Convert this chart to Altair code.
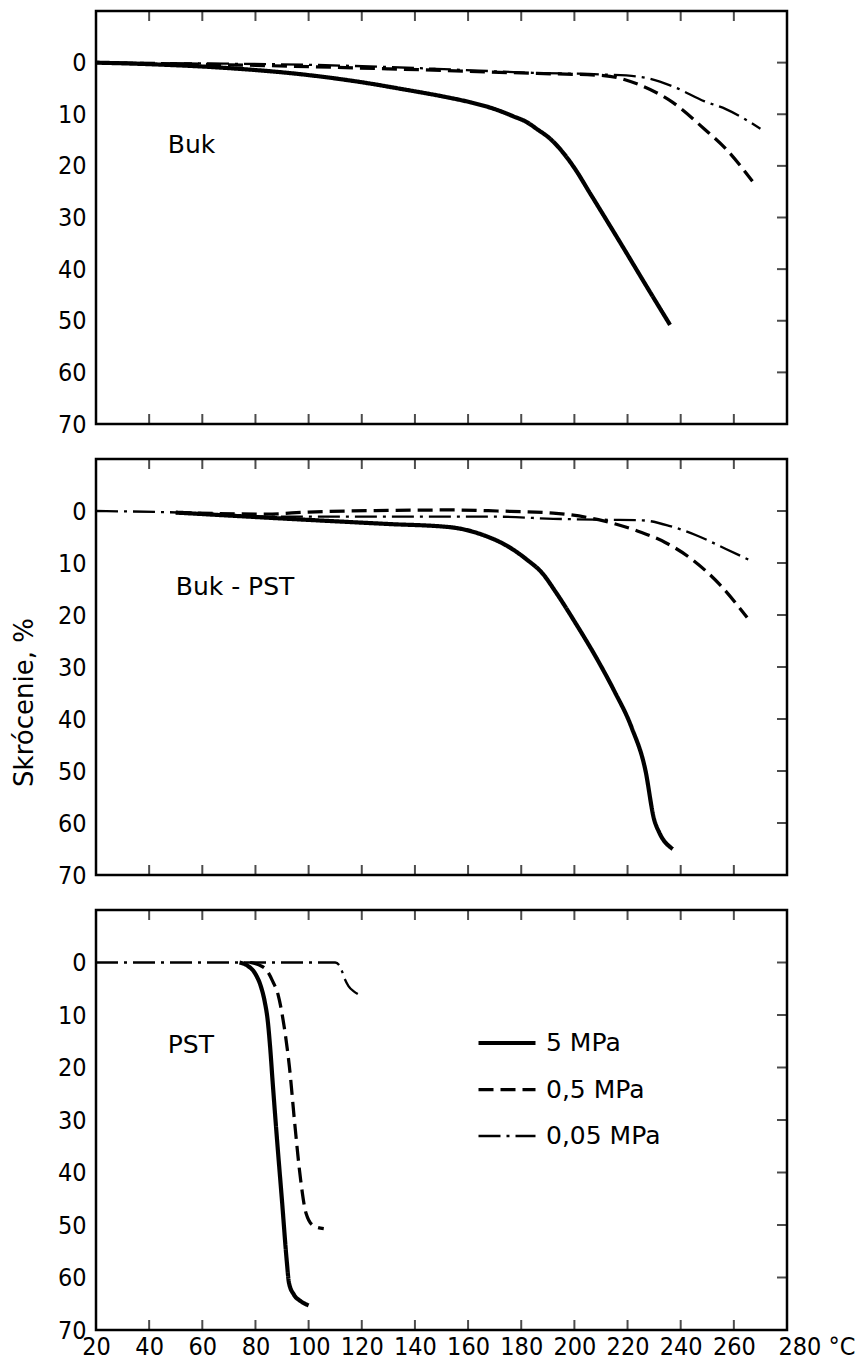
import altair as alt
import pandas as pd

NUM_FONT = "DejaVu Sans Condensed"
TXT_FONT = "DejaVu Sans"

series = ["5 MPa", "0,5 MPa", "0,05 MPa"]

# ---- Buk ----
buk_5_T = [20, 40, 68, 98, 120, 136, 150, 161, 170, 177, 182, 186, 191, 196, 200, 206, 218, 227, 236]
buk_5_v = [0, 0.3, 1.0, 2.3, 3.8, 5.2, 6.5, 7.7, 9.0, 10.4, 11.5, 12.9, 14.8, 17.6, 20.4, 25.4, 35.5, 43.2, 50.8]
buk_05_T = [20, 68, 130, 186, 211, 224, 237, 249, 257, 267]
buk_05_v = [0, 0.4, 1.2, 2.1, 2.5, 4.2, 7.7, 12.9, 16.7, 23.0]
buk_005_T = [20, 68, 98, 148, 186, 211, 224, 237, 249, 257, 270]
buk_005_v = [0, 0.2, 0.4, 1.2, 2.0, 2.3, 2.7, 4.6, 7.5, 9.0, 12.8]

# ---- Buk - PST ----
bp_5_T = [50, 99.5, 130, 153, 166.6, 175, 182, 188, 193, 200, 209, 215, 221.5, 226.7, 230, 232, 237]
bp_5_v = [0.3, 1.7, 2.5, 3.1, 4.8, 6.8, 9.3, 12.0, 15.6, 21.2, 28.9, 34.6, 41.6, 49.8, 59.3, 61.9, 65.0]
bp_05_T = [50, 84, 100, 130, 155, 171, 192, 211, 223.5, 234, 244, 255, 265]
bp_05_v = [0.3, 0.6, 0.2, -0.1, -0.2, 0, 0.4, 1.9, 3.8, 6.0, 9.2, 14.3, 20.5]
bp_005_T = [20, 52, 88, 130, 171, 192, 213, 225.6, 236, 246.5, 257, 267]
bp_005_v = [0, 0.3, 1.1, 1.1, 1.1, 1.5, 1.7, 1.8, 2.9, 4.8, 7.3, 9.7]

# ---- PST ----
p_5_T = [74, 77, 80, 82, 83.5, 84.6, 85.5, 86.5, 88, 90, 91.8, 92.6, 94.5, 97, 100]
p_5_v = [0, 0.6, 2.2, 4.5, 7.5, 11.0, 16.0, 23.0, 33.0, 45.5, 57.0, 61.0, 63.3, 64.5, 65.3]
p_05_T = [78, 81, 84.4, 86.5, 88.6, 90.7, 92.8, 94.8, 97, 99, 102, 105.7]
p_05_v = [0, 0.4, 1.6, 3.6, 6.3, 11.9, 20.0, 30.8, 41.4, 47.7, 50.2, 50.7]
p_005_T = [20, 110, 111.5, 112.5, 113.5, 115, 117, 118.5]
p_005_v = [0, 0, 0.5, 1.6, 3.0, 4.5, 5.5, 6.0]

panel_names = ["Buk", "Buk - PST", "PST"]
panel_label_T = [47, 50, 47]
panel_label_v = [16, 14.7, 15.7]

x_tick_values = [40, 60, 80, 100, 120, 140, 160, 180, 200, 220, 240, 260]
x_label_values = [20, 40, 60, 80, 100, 120, 140, 160, 180, 200, 220, 240, 260, 280]
y_values = [0, 10, 20, 30, 40, 50, 60, 70]
y_tick_values = [0, 10, 20, 30, 40, 50, 60]

X_MIN, X_MAX = 20, 280
Y_MIN, Y_MAX = -10, 70

dash_range = [[1, 0], [15, 7], [22, 6, 3, 6]]
width_range = [4.2, 2.3, 2.3]


def make_df(groups):
    rows = []
    for name, Ts, vs in groups:
        for t, v in zip(Ts, vs):
            rows.append({"T": t, "v": v, "series": name})
    return pd.DataFrame(rows)


def panel(df, idx, height, show_x, show_title, show_legend):
    xscale = alt.Scale(domain=[X_MIN, X_MAX], nice=False, zero=False)
    yscale = alt.Scale(domain=[Y_MIN, Y_MAX], reverse=True, nice=False, zero=False)

    if show_x:
        xaxis = alt.Axis(
            values=x_label_values, ticks=False, domain=False, grid=False,
            labelFont=NUM_FONT, labelFontSize=25, labelColor="black",
            labelPadding=4, labelFlush=False, labelOverlap=False, title=None,
            labelExpr="datum.value == 280 ? '280 °C' : datum.label",
            labelAlign={"condition": {"test": "datum.value == 280", "value": "left"}, "value": "center"},
            labelOffset={"condition": {"test": "datum.value == 280", "value": -9}, "value": 0},
        )
    else:
        xaxis = None

    yaxis_kw = dict(
        values=y_values, ticks=False, domain=False, grid=False,
        labelFont=NUM_FONT, labelFontSize=25, labelColor="black",
        labelPadding=10, labelOverlap=False,
    )
    if show_title:
        yaxis = alt.Axis(
            title="Skrócenie, %", titleFont=TXT_FONT, titleFontSize=26,
            titleFontWeight="normal", titleColor="black",
            titleX=-59, titleY=243, titleAngle=270, titleBaseline="bottom",
            titleAlign="center",
            **yaxis_kw,
        )
    else:
        yaxis = alt.Axis(title=None, **yaxis_kw)

    if show_legend:
        leg = alt.Legend(
            orient="none", legendX=380, legendY=102, title=None,
            labelFont=TXT_FONT, labelFontSize=25, labelColor="black",
            symbolType="stroke", symbolSize=3249, symbolStrokeColor="black",
            rowPadding=3, labelOffset=8, padding=0,
        )
    else:
        leg = None

    lines = alt.Chart(df).mark_line(
        interpolate="monotone", color="black", clip=True
    ).encode(
        x=alt.X("T:Q", scale=xscale, axis=xaxis),
        y=alt.Y("v:Q", scale=yscale, axis=yaxis),
        strokeDash=alt.StrokeDash("series:N", scale=alt.Scale(domain=series, range=dash_range), legend=leg),
        strokeWidth=alt.StrokeWidth("series:N", scale=alt.Scale(domain=series, range=width_range), legend=leg),
        detail="series:N",
    )

    xt = pd.DataFrame({"T": x_tick_values})
    yt = pd.DataFrame({"v": y_tick_values})
    tick_kw = dict(color="black", thickness=2, size=20, clip=True)

    top_ticks = alt.Chart(xt).mark_tick(orient="vertical", **tick_kw).encode(
        x=alt.X("T:Q", axis=xaxis), y=alt.YDatum(Y_MIN, axis=yaxis))
    bottom_ticks = alt.Chart(xt).mark_tick(orient="vertical", **tick_kw).encode(
        x=alt.X("T:Q", axis=xaxis), y=alt.YDatum(Y_MAX, axis=yaxis))
    right_ticks = alt.Chart(yt).mark_tick(orient="horizontal", **tick_kw).encode(
        x=alt.XDatum(X_MAX, axis=xaxis), y=alt.Y("v:Q", axis=yaxis))

    lab = pd.DataFrame({"T": [panel_label_T[idx]], "v": [panel_label_v[idx]], "label": [panel_names[idx]]})
    label = alt.Chart(lab).mark_text(
        align="left", baseline="middle", font=TXT_FONT, fontSize=25, color="black"
    ).encode(x=alt.X("T:Q", axis=xaxis), y=alt.Y("v:Q", axis=yaxis), text="label:N")

    return alt.layer(lines, top_ticks, bottom_ticks, right_ticks, label).properties(
        width=691, height=height
    )


df1 = make_df([(series[0], buk_5_T, buk_5_v), (series[1], buk_05_T, buk_05_v), (series[2], buk_005_T, buk_005_v)])
df2 = make_df([(series[0], bp_5_T, bp_5_v), (series[1], bp_05_T, bp_05_v), (series[2], bp_005_T, bp_005_v)])
df3 = make_df([(series[0], p_5_T, p_5_v), (series[1], p_05_T, p_05_v), (series[2], p_005_T, p_005_v)])

chart = alt.vconcat(
    panel(df1, 0, 413, False, False, False),
    panel(df2, 1, 416, False, True, False),
    panel(df3, 2, 420, True, False, True),
    spacing=35,
    bounds="flush",
).resolve_scale(
    strokeDash="independent", strokeWidth="independent"
).properties(
    padding={"left": 1, "top": 1, "right": 0, "bottom": 0},
    background="white",
).configure_view(
    stroke="black", strokeWidth=2.5
)

chart.save("out.html", embed_options={"renderer": "svg", "actions": False})
